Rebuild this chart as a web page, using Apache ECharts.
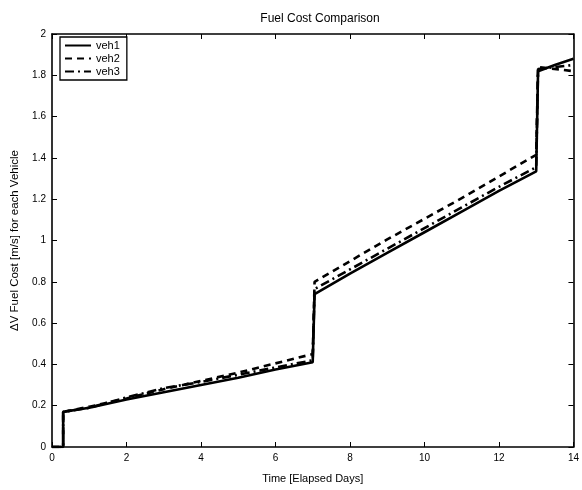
<!DOCTYPE html>
<html>
<head>
<meta charset="utf-8">
<script src="https://cdn.jsdelivr.net/npm/echarts@6/dist/echarts.min.js"></script>
<style>
	html, body { margin: 0; padding: 0; background: #fff; }
	#chart { width: 582px; height: 490px; }
</style>
</head>
<body>
<div id="chart"></div>
<script>
	// elapsed days / delta-V values
	var veh1 = [[0, 0], [0.3, 0], [0.3, 0.17], [1, 0.19], [2, 0.23], [3, 0.265], [4, 0.30], [5, 0.335], [6, 0.375], [7, 0.41],
		[7.05, 0.74], [8, 0.84], [9, 0.94], [10, 1.04], [11, 1.14], [12, 1.24], [13, 1.335], [13.05, 1.82], [13.5, 1.85], [14, 1.88]];
	var veh2 = [[0, 0], [0.3, 0], [0.3, 0.17], [1, 0.195], [2, 0.235], [3, 0.28], [4, 0.32], [5, 0.36], [6, 0.405], [7, 0.45],
		[7.05, 0.80], [8, 0.90], [9, 1.005], [10, 1.105], [11, 1.205], [12, 1.31], [13, 1.415], [13.05, 1.84], [14, 1.82]];
	var veh3 = [[0, 0], [0.3, 0], [0.3, 0.17], [1, 0.19], [2, 0.24], [3, 0.285], [4, 0.315], [5, 0.35], [6, 0.385], [7, 0.42],
		[7.05, 0.765], [8, 0.86], [9, 0.96], [10, 1.06], [11, 1.16], [12, 1.26], [13, 1.355], [13.05, 1.83], [14, 1.85]];
	var seriesNames = ['veh1', 'veh2', 'veh3'];
	var lineTypes = ['solid', [7, 5], [9, 4, 2, 4]];

	var chart = echarts.init(document.getElementById('chart'));
	var font = 'Liberation Sans, Arial, sans-serif';

	var axisBase = {
		type: 'value',
		axisLine: { show: true, onZero: false, lineStyle: { color: '#000', width: 1.6 } },
		axisTick: { show: true, inside: true, length: 5, lineStyle: { color: '#000' } },
		splitLine: { show: false }
	};

	chart.setOption({
		animation: false,
		title: {
			text: 'Fuel Cost Comparison',
			left: 315, top: 8, textAlign: 'center',
			textStyle: { fontFamily: font, fontSize: 12, fontWeight: 'normal', color: '#000' }
		},
		legend: {
			data: seriesNames,
			orient: 'vertical',
			left: 60, top: 37,
			padding: [3, 7, 3, 4],
			itemGap: 2,
			itemWidth: 26, itemHeight: 12,
			borderColor: '#000', borderWidth: 1.3,
			backgroundColor: '#fff',
			itemStyle: { opacity: 0 },
			textStyle: { fontFamily: font, fontSize: 11, color: '#000' }
		},
		grid: { left: 52, right: 4, top: 34, bottom: 43 },
		xAxis: [
			Object.assign({}, axisBase, {
				min: 0, max: 14, interval: 2,
				name: 'Time [Elapsed Days]', nameLocation: 'middle', nameGap: 26,
				nameTextStyle: { fontFamily: font, fontSize: 11, color: '#000' },
				axisLabel: { fontFamily: font, fontSize: 10, color: '#000', margin: 6 }
			}),
			Object.assign({}, axisBase, {
				min: 0, max: 14, interval: 2, position: 'top',
				axisLabel: { show: false }
			})
		],
		yAxis: [
			Object.assign({}, axisBase, {
				min: 0, max: 2, interval: 0.2,
				name: '\u0394V Fuel Cost [m/s] for each Vehicle', nameLocation: 'middle', nameGap: 22,
				nameTextStyle: { fontFamily: font, fontSize: 11.5, color: '#000' },
				axisLabel: { fontFamily: font, fontSize: 10, color: '#000', margin: 6 }
			}),
			Object.assign({}, axisBase, {
				min: 0, max: 2, interval: 0.2, position: 'right',
				axisLabel: { show: false }
			})
		],
		series: [veh1, veh2, veh3].map(function (d, i) {
			return {
				name: seriesNames[i],
				type: 'line',
				data: d,
				showSymbol: false,
				symbol: 'none',
				lineStyle: { color: '#000', width: 2.6, type: lineTypes[i] },
				itemStyle: { color: '#000' }
			};
		})
	});
</script>
</body>
</html>
